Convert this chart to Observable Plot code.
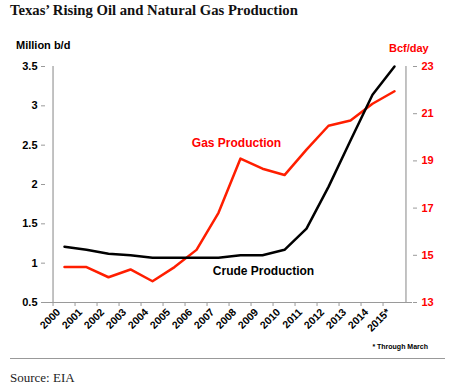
<!DOCTYPE html>
<html>
<head>
<meta charset="utf-8">
<script src="https://cdn.jsdelivr.net/npm/d3@7"></script>
<script src="https://cdn.jsdelivr.net/npm/@observablehq/plot@0.6"></script>
<style>
  html, body { margin: 0; padding: 0; background: #fff; }
  #chart { position: relative; width: 452px; height: 389px; }
</style>
</head>
<body>
<div id="chart"></div>
<script>
const years = ["2000","2001","2002","2003","2004","2005","2006","2007","2008","2009","2010","2011","2012","2013","2014","2015"];
const crude = [1.21, 1.17, 1.12, 1.10, 1.07, 1.07, 1.07, 1.07, 1.10, 1.10, 1.17, 1.44, 1.97, 2.56, 3.14, 3.50];
const gas   = [14.5, 14.5, 14.07, 14.4, 13.9, 14.5, 15.23, 16.8, 19.1, 18.67, 18.4, 19.48, 20.49, 20.71, 21.42, 21.95];
const leftTicks = [0.5, 1, 1.5, 2, 2.5, 3, 3.5];
const rightTicks = [13, 15, 17, 19, 21, 23];

const W = 452, H = 389, mT = 66, mB = 87, mL = 45, mR = 40;
const bw = (W - mL - mR) / years.length;
const g2y = g => 0.5 + (g - 13) * 0.3;
const y2g = y => Math.round((y - 0.5) / 0.3 + 13);

const font = "'Liberation Sans', Arial, sans-serif";
const red = "#ff0000";
const gray = "#9a9a9a";

const crudeData = years.map((y, i) => ({year: y, v: crude[i]}));
const gasData = years.map((y, i) => ({year: y, v: g2y(gas[i])}));

const plot = Plot.plot({
  width: W, height: H,
  marginTop: mT, marginBottom: mB, marginLeft: mL, marginRight: mR,
  style: {fontFamily: font, fontSize: "11px", background: "transparent", overflow: "visible"},
  x: {type: "band", domain: years, padding: 0},
  y: {domain: [0.5, 3.5]},
  marks: [
    Plot.ruleY([0.5], {stroke: gray, strokeWidth: 1.2}),
    Plot.ruleX([years[0]], {dx: -bw / 2, stroke: gray, strokeWidth: 1.2}),
    Plot.ruleX([years[years.length - 1]], {dx: bw / 2, stroke: gray, strokeWidth: 1.2}),
    Plot.axisY(leftTicks, {anchor: "left", tickSize: 4, tickPadding: 4, stroke: gray, fill: "#000", fontWeight: "bold", fontSize: 11, tickFormat: d => String(d), label: null}),
    Plot.axisY(rightTicks.map(g2y), {anchor: "right", tickSize: 4, tickPadding: 5, stroke: gray, fill: red, fontWeight: "bold", fontSize: 11, tickFormat: y2g, label: null}),
    Plot.axisX({tickSize: 4, tickFormat: () => "", dx: -bw / 2, stroke: gray, label: null}),
    Plot.axisX({tickSize: 0, tickPadding: 5, tickRotate: -45, dx: -6, dy: 3, fontWeight: "bold", fontSize: 10.5, fill: "#000",
      tickFormat: d => d === "2015" ? "2015*" : d, label: null}),
    Plot.line(gasData, {x: "year", y: "v", stroke: "#ff1e00", strokeWidth: 2.5}),
    Plot.line(crudeData, {x: "year", y: "v", stroke: "#000", strokeWidth: 2.5}),
    Plot.text(["Gas Production"], {x: () => "2008", y: () => 2.52, text: d => d, dx: -4, fill: red, fontWeight: "bold", fontSize: 12}),
    Plot.text(["Crude Production"], {x: () => "2009", y: () => 0.894, text: d => d, dx: 1, fill: "#000", fontWeight: "bold", fontSize: 12})
  ]
});
document.getElementById("chart").appendChild(plot);

const svg = d3.select(plot);
const add = (x, y, txt, o) => svg.append("text").attr("x", x).attr("y", y)
  .attr("text-anchor", o.anchor || "start")
  .attr("font-family", o.family || font).attr("font-weight", o.weight || "bold")
  .attr("font-size", o.size).attr("fill", o.fill || "#000").text(txt);
add(10, 15, "Texas\u2019 Rising Oil and Natural Gas Production", {family: "'Liberation Serif', 'DejaVu Serif', serif", size: 14.7, fill: "#111"});
add(16, 49, "Million b/d", {size: 11});
add(389, 52, "Bcf/day", {size: 11, fill: red});
add(428, 349, "* Through March", {size: 7, anchor: "end"});
svg.append("line").attr("x1", 10).attr("x2", 445).attr("y1", 358.5).attr("y2", 358.5)
  .attr("stroke", "#999").attr("stroke-width", 1);
add(10, 382, "Source: EIA", {family: "'Liberation Serif', 'DejaVu Serif', serif", size: 13, weight: "normal", fill: "#222"});
</script>
</body>
</html>
